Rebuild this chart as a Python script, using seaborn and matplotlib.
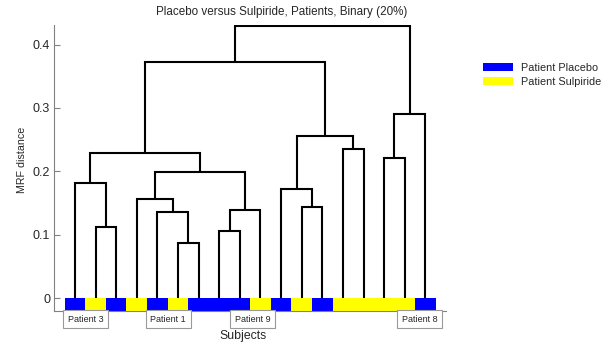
import numpy as np
import pandas as pd
import matplotlib
matplotlib.use('Agg')
import matplotlib.pyplot as plt
from matplotlib.patches import Patch
import seaborn as sns

# subjects in the order they appear under the tree, and their group
leaf_group = ["Placebo", "Sulpiride", "Placebo", "Sulpiride", "Placebo", "Sulpiride",
              "Placebo", "Placebo", "Placebo", "Sulpiride", "Placebo", "Sulpiride",
              "Placebo", "Sulpiride", "Sulpiride", "Sulpiride", "Sulpiride", "Placebo"]

# linkage, scipy style: leaves are 0..17, merged clusters get 18, 19, ...
merge_left = [5, 7, 1, 4, 19, 11, 3, 10, 0, 24, 15, 26, 13, 25, 28, 29, 33]
merge_right = [6, 8, 2, 18, 9, 12, 21, 23, 20, 22, 16, 27, 14, 30, 17, 31, 32]
merge_height = [0.087, 0.106, 0.112, 0.136, 0.1395, 0.143, 0.156, 0.172, 0.181,
                0.1985, 0.2217, 0.2285, 0.235, 0.256, 0.2907, 0.372, 0.429]

patient_names = ["Patient 3", "Patient 1", "Patient 9", "Patient 8"]
patient_x = [1.53, 5.53, 9.63, 17.72]

group_colors = {"Placebo": "#0000ff", "Sulpiride": "#ffff00"}

sns.set_style("ticks")
plt.rcParams['font.family'] = ['Liberation Sans', 'DejaVu Sans']

fig = plt.figure(figsize=(6.03, 3.5), dpi=100)
ax = fig.add_axes([0.090, 0.1123, 0.6496, 0.8163])

# colour strip under the leaves
n = len(leaf_group)
strip = pd.DataFrame({"pos": np.arange(1, n + 1), "h": -0.02, "group": leaf_group})
sns.barplot(data=strip, x="pos", y="h", hue="group", palette=group_colors,
            native_scale=True, width=1, dodge=False, errorbar=None, legend=False,
            saturation=1, linewidth=0, ax=ax)

# dendrogram links
xs = {i: i + 1 for i in range(n)}
ys = {i: 0.0 for i in range(n)}
for k, (a, b, h) in enumerate(zip(merge_left, merge_right, merge_height)):
    ax.plot([xs[a], xs[a], xs[b], xs[b]], [ys[a], h, h, ys[b]],
            color='black', lw=1.5, solid_capstyle='butt', solid_joinstyle='miter')
    xs[n + k] = (xs[a] + xs[b]) / 2
    ys[n + k] = h

for name, x in zip(patient_names, patient_x):
    ax.text(x, -0.0335, name, ha='center', va='center', fontsize=6.5, clip_on=False,
            bbox=dict(boxstyle='square,pad=0.5', fc='white', ec='#999999', lw=0.8))

ax.set_xlim(0, 19)
ax.set_ylim(-0.02, 0.431)
ax.set_xticks([])
ax.set_yticks([0, 0.1, 0.2, 0.3, 0.4])
ax.set_yticklabels(['0', '0.1', '0.2', '0.3', '0.4'])
ax.tick_params(axis='y', direction='in', length=4, color='#808080', labelsize=9, pad=3)
sns.despine(ax=ax)
for s in ['left', 'bottom']:
    ax.spines[s].set_color('#808080')
    ax.spines[s].set_linewidth(0.8)

ax.set_xlabel('Subjects', fontsize=8.8)
ax.xaxis.set_label_coords(0.483, -0.0676)
ax.set_ylabel('MRF distance', fontsize=7.7)
ax.yaxis.set_label_coords(-0.0697, 0.527)

fig.text(282 / 603, 1 - 12 / 350, 'Placebo versus Sulpiride, Patients, Binary (20%)',
         ha='center', va='center', fontsize=8.4)

handles = [Patch(fc=group_colors[g], ec='none') for g in ["Placebo", "Sulpiride"]]
fig.legend(handles, ['Patient Placebo', 'Patient Sulpiride'], loc='upper left',
           bbox_to_anchor=(483 / 603, 1 - 63 / 350), frameon=False, fontsize=7.8,
           borderpad=0, borderaxespad=0, handlelength=2.8, handleheight=0.72,
           handletextpad=0.67, labelspacing=0.38)

fig.savefig('out.png', dpi=100)
